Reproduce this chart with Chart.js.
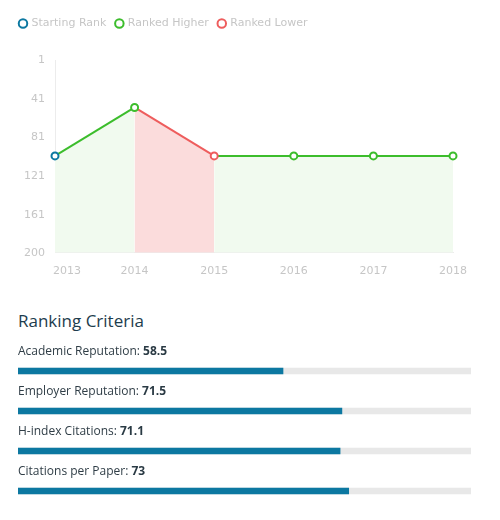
<!DOCTYPE html>
<html>
<head>
<meta charset="utf-8">
<script src="https://cdn.jsdelivr.net/npm/chart.js@4/dist/chart.umd.min.js"></script>
<style>
  html, body { margin: 0; padding: 0; background: #fff; }
  body { width: 500px; height: 520px; position: relative; overflow: hidden; font-family: "Open Sans", sans-serif; }
  #rank-wrap { position: absolute; left: 0; top: 0; width: 500px; height: 290px; }
  #criteria-title { position: absolute; left: 18px; top: 309px; margin: 0; font-size: 17px; font-weight: 400; color: #1d3c4d; }
  #criteria-wrap { position: absolute; left: 0; top: 340px; width: 500px; height: 180px; }
</style>
</head>
<body>
<div id="rank-wrap"><canvas id="chart-rank"></canvas></div>
<h3 id="criteria-title">Ranking Criteria</h3>
<div id="criteria-wrap"><canvas id="chart-criteria"></canvas></div>

<script>
// Dữ liệu xếp hạng theo năm
const years = ['2013', '2014', '2015', '2016', '2017', '2018'];
const ranks = [100, 50, 100, 100, 100, 100];
const rankTicks = [1, 41, 81, 121, 161, 200];
const legendNames = ['Starting Rank', 'Ranked Higher', 'Ranked Lower'];

// Tiêu chí xếp hạng
const criteriaNames = ['Academic Reputation', 'Employer Reputation', 'H-index Citations', 'Citations per Paper'];
const criteriaValues = [58.5, 71.5, 71.1, 73];
const criteriaMax = [100, 100, 100, 100];

const BLUE = '#0c78a1';
const GREEN = '#3cbd2c';
const RED = '#ee5d5d';
const GREEN_FILL = '#f1faef';
const RED_FILL = '#fbdcdc';
const TICK_GREY = '#c6c6c6';

function pointColor(i) {
    if (i === 0) return BLUE;
    return ranks[i] > ranks[i - 1] ? RED : GREEN;
}

// Thêm khoảng trống dưới chú thích
const legendGap = {
    id: 'legendGap',
    beforeInit(chart) {
        const fit = chart.legend.fit;
        chart.legend.fit = function () {
            fit.bind(chart.legend)();
            this.height += 21;
        };
    }
};

// Nhãn năm đầu tiên canh trái theo trục
const firstLabelLeft = {
    id: 'firstLabelLeft',
    afterLayout(chart) {
        const sc = chart.scales.x;
        if (sc._patched) return;
        const orig = sc._computeLabelItems;
        sc._computeLabelItems = function (area) {
            const items = orig.call(this, area);
            if (items.length) {
                items[0].options.textAlign = 'left';
                items[0].options.translation[0] -= 2;
            }
            return items;
        };
        sc._patched = true;
    }
};

// Vẽ biểu đồ xếp hạng
function renderRankChart() {
    const ctx = document.getElementById('chart-rank');
    new Chart(ctx, {
        type: 'line',
        data: {
            labels: years,
            datasets: [{
                label: 'Rank',
                data: ranks,
                borderWidth: 2,
                borderColor: GREEN,
                backgroundColor: GREEN_FILL,
                fill: 'start',
                tension: 0,
                pointRadius: 3.5,
                pointHoverRadius: 3.5,
                pointBorderWidth: 2,
                pointBackgroundColor: '#fff',
                pointBorderColor: c => pointColor(c.dataIndex),
                segment: {
                    borderColor: c => c.p1.parsed.y > c.p0.parsed.y ? RED : GREEN,
                    backgroundColor: c => c.p1.parsed.y > c.p0.parsed.y ? RED_FILL : GREEN_FILL
                }
            }]
        },
        options: {
            responsive: true,
            maintainAspectRatio: false,
            animation: false,
            layout: { padding: { top: 8, left: 10, right: 47, bottom: 8 } },
            plugins: {
                tooltip: { enabled: false },
                legend: {
                    position: 'top',
                    align: 'start',
                    labels: {
                        usePointStyle: true,
                        boxWidth: 6,
                        boxHeight: 6,
                        padding: 10,
                        color: TICK_GREY,
                        font: { family: 'DejaVu Sans', size: 11 },
                        generateLabels: () => legendNames.map((name, i) => ({
                            text: name,
                            fillStyle: '#fff',
                            strokeStyle: [BLUE, GREEN, RED][i],
                            lineWidth: 2,
                            pointStyle: 'circle',
                            fontColor: TICK_GREY,
                            hidden: false,
                            datasetIndex: 0
                        }))
                    }
                }
            },
            scales: {
                x: {
                    offset: false,
                    grid: { display: false },
                    border: { color: '#ececec' },
                    ticks: { color: TICK_GREY, font: { family: 'DejaVu Sans', size: 11 }, padding: 4, maxRotation: 0 }
                },
                y: {
                    reverse: true,
                    min: 1,
                    max: 200,
                    afterBuildTicks: axis => { axis.ticks = rankTicks.map(v => ({ value: v })); },
                    afterFit: axis => { axis.width = 45; },
                    grid: { display: false, drawTicks: false },
                    border: { color: '#ececec' },
                    ticks: { color: TICK_GREY, font: { family: 'DejaVu Sans', size: 11 }, padding: 10 }
                }
            }
        },
        plugins: [legendGap, firstLabelLeft]
    });
}

// Plugin ghi nhãn phía trên mỗi thanh
const criteriaLabels = {
    id: 'criteriaLabels',
    afterDatasetsDraw(chart) {
        const c = chart.ctx;
        const meta = chart.getDatasetMeta(0);
        c.save();
        c.textBaseline = 'middle';
        meta.data.forEach((bar, i) => {
            const y = bar.y - 19;
            const x = chart.chartArea.left;
            const name = criteriaNames[i] + ': ';
            c.font = '400 12px "Open Sans"';
            c.fillStyle = '#2f3d46';
            c.fillText(name, x, y);
            const w = c.measureText(name).width;
            c.font = '700 12px "Open Sans"';
            c.fillStyle = '#2a3a44';
            c.fillText(String(criteriaValues[i]), x + w, y);
        });
        c.restore();
    }
};

function renderCriteriaChart() {
    const ctx = document.getElementById('chart-criteria');
    new Chart(ctx, {
        type: 'bar',
        data: {
            labels: criteriaNames,
            datasets: [
                { data: criteriaValues, backgroundColor: BLUE, barThickness: 6, grouped: false, order: 0 },
                { data: criteriaMax, backgroundColor: '#e8e8e8', barThickness: 6, grouped: false, order: 1 }
            ]
        },
        options: {
            indexAxis: 'y',
            responsive: true,
            maintainAspectRatio: false,
            animation: false,
            layout: { padding: { top: 11, bottom: 9, left: 18, right: 29 } },
            plugins: { legend: { display: false }, tooltip: { enabled: false } },
            scales: {
                x: { display: false, min: 0, max: 100 },
                y: { display: false }
            }
        },
        plugins: [criteriaLabels]
    });
}

renderRankChart();
renderCriteriaChart();
</script>
</body>
</html>
